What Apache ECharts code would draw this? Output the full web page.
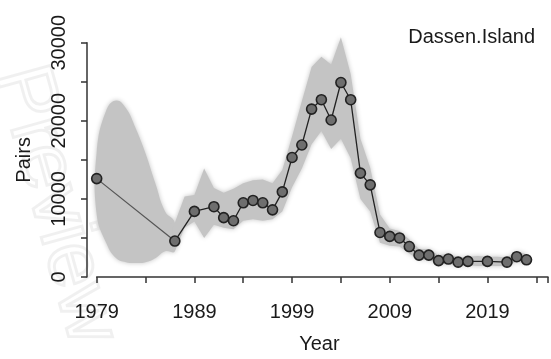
<!DOCTYPE html>
<html>
<head>
<meta charset="utf-8">
<script src="https://cdn.jsdelivr.net/npm/echarts@6/dist/echarts.min.js"></script>
<style>
  html, body { margin: 0; padding: 0; background: #fff; }
  #chart { width: 551px; height: 359px; }
</style>
</head>
<body>
<div id="chart"></div>
<script>
// Observed counts (pairs)
const years = [1979, 1987, 1989, 1991, 1992, 1993, 1994, 1995, 1996, 1997, 1998, 1999, 2000, 2001, 2002, 2003, 2004, 2005, 2006, 2007, 2008, 2009, 2010, 2011, 2012, 2013, 2014, 2015, 2016, 2017, 2019, 2021, 2022, 2023];
const pairs = [12600, 4600, 8400, 9000, 7600, 7200, 9500, 9800, 9500, 8600, 10900, 15300, 16900, 21500, 22700, 20100, 24900, 22700, 13300, 11800, 5700, 5200, 5000, 3900, 2800, 2800, 2100, 2300, 1900, 2000, 2000, 1900, 2600, 2200];

// Confidence band, every year 1979-2023
const bandYears = [1979, 1980, 1981, 1982, 1983, 1984, 1985, 1986, 1987, 1988, 1989, 1990, 1991, 1992, 1993, 1994, 1995, 1996, 1997, 1998, 1999, 2000, 2001, 2002, 2003, 2004, 2005, 2006, 2007, 2008, 2009, 2010, 2011, 2012, 2013, 2014, 2015, 2016, 2017, 2018, 2019, 2020, 2021, 2022, 2023];
const bandUpper = [16000, 21400, 22600, 21600, 19000, 15800, 12000, 8400, 6950, 10300, 10500, 13900, 11400, 10800, 11300, 12000, 12400, 12500, 12000, 13700, 18000, 22500, 26900, 28200, 27200, 30700, 26000, 17700, 14000, 8000, 6200, 5900, 4800, 3600, 3600, 2800, 3000, 2500, 2600, 2700, 2600, 2600, 2500, 3300, 2900];
const bandLower = [8000, 4300, 2400, 1900, 1800, 1900, 2400, 3300, 3300, 6300, 7100, 5000, 6700, 6300, 6100, 7200, 7400, 7200, 7400, 8400, 11500, 13900, 17000, 18700, 16400, 17700, 15200, 10000, 8400, 4400, 4000, 3900, 3000, 2200, 2200, 1600, 1700, 1400, 1500, 1400, 1400, 1400, 1400, 2000, 1700];

// Axis ticks / labels
const xTickStart = 1979, xAxisEnd = 2025.2, xTickStep = 5, xLabelStep = 10;
const yTickMax = 30000, yTickStep = 5000, yLabelStep = 10000;

const FONT = 'Liberation Sans, Arial, Helvetica, sans-serif';
const bandColor = '#c4c4c4';
const lobeEnd = 1987;

const pts = years.map((y, i) => [y, pairs[i]]);
const early = pts.slice(0, 2);
const late = pts.slice(1);

function bandPolygon(api, from, to) {
  const top = [], bot = [];
  for (let i = 0; i < bandYears.length; i++) {
    const y = bandYears[i];
    if (y < from || y > to) continue;
    top.push(api.coord([y, bandUpper[i]]));
    bot.push(api.coord([y, bandLower[i]]));
  }
  return top.concat(bot.reverse());
}

const chart = echarts.init(document.getElementById('chart'), null, { renderer: 'canvas' });
chart.setOption({
  animation: false,
  backgroundColor: '#ffffff',
  title: {
    text: 'Dassen.Island',
    right: 11, top: 22,
    textStyle: { fontFamily: FONT, fontSize: 20, fontWeight: 'normal', color: '#1a1a1a' }
  },
  graphic: [{
    type: 'text', x: 55, y: 205, rotation: -1.3, z: 0, silent: true,
    style: { text: 'Preview', font: '80px ' + FONT, fill: 'rgba(0,0,0,0)', stroke: 'rgba(0,0,0,0.06)', lineWidth: 3, align: 'center', verticalAlign: 'middle' }
  }],
  grid: { left: 96.7, right: 0, top: 42.7, bottom: 79, containLabel: false },
  xAxis: {
    type: 'value', min: xTickStart, max: xAxisEnd, interval: xTickStep, offset: 2,
    axisLine: { lineStyle: { color: '#333', width: 1.5 } },
    axisTick: { length: 6, lineStyle: { color: '#333', width: 1.5 } },
    splitLine: { show: false },
    axisLabel: {
      fontFamily: FONT, fontSize: 20, color: '#1a1a1a', margin: 23,
      formatter: v => (Math.abs(v - Math.round(v)) < 1e-6 && (Math.round(v) - xTickStart) % xLabelStep === 0 ? String(Math.round(v)) : '')
    },
    name: 'Year', nameLocation: 'middle', nameGap: 55,
    nameTextStyle: { fontFamily: FONT, fontSize: 20, color: '#1a1a1a', padding: [0, 6, 0, 0] }
  },
  yAxis: {
    type: 'value', min: 0, max: yTickMax, interval: yTickStep, offset: 9.7,
    axisLine: { show: true, lineStyle: { color: '#333', width: 1.5 } },
    axisTick: { show: true, length: 6, lineStyle: { color: '#333', width: 1.5 } },
    splitLine: { show: false },
    axisLabel: {
      rotate: 90, fontFamily: FONT, fontSize: 20, color: '#1a1a1a', margin: 18,
      formatter: v => (v % yLabelStep === 0 ? String(v) : '')
    },
    name: 'Pairs', nameLocation: 'middle', nameGap: 53,
    nameTextStyle: { fontFamily: FONT, fontSize: 20, color: '#1a1a1a' }
  },
  series: [
    {
      type: 'custom', coordinateSystem: 'cartesian2d', silent: true, z: 1,
      data: [[bandYears[0], bandLower[0]]],
      renderItem: function (params, api) {
        return {
          type: 'group',
          children: [
            { type: 'polygon', shape: { points: bandPolygon(api, bandYears[0], lobeEnd), smooth: 0.45 },
              style: { fill: bandColor, shadowBlur: 5, shadowColor: bandColor } },
            { type: 'polygon', shape: { points: bandPolygon(api, lobeEnd, bandYears[bandYears.length - 1]) },
              style: { fill: bandColor, shadowBlur: 5, shadowColor: bandColor } }
          ]
        };
      }
    },
    { type: 'line', data: early, symbol: 'none', lineStyle: { color: '#555', width: 1.2 }, clip: false, z: 3 },
    { type: 'line', data: late, symbol: 'none', lineStyle: { color: '#222', width: 1.3 }, clip: false, z: 3 },
    { type: 'scatter', data: pts, symbol: 'circle', symbolSize: 10,
      itemStyle: { color: '#6e6e6e', borderColor: '#222', borderWidth: 1.6, opacity: 1 }, clip: false, z: 4 }
  ]
});
</script>
</body>
</html>
